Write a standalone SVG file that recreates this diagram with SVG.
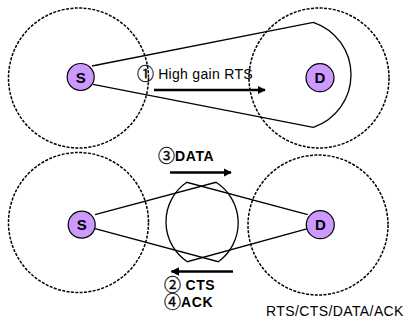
<svg xmlns="http://www.w3.org/2000/svg" width="412" height="326" viewBox="0 0 412 326">
<defs>
<style>
.range{fill:none;stroke:#000;stroke-width:1.5;stroke-dasharray:3 1.4}
.node{fill:#CC99FF;stroke:#000;stroke-width:1.2}
.nl{font-family:"Liberation Sans",Arial,sans-serif;font-weight:bold;font-size:15px;text-anchor:middle;fill:#000}
.beam{fill:none;stroke:#000;stroke-width:1.3;stroke-linejoin:miter}
.arr{stroke:#000;stroke-width:2.6;fill:none}
.lbl{font-family:"Liberation Sans",Arial,sans-serif;font-size:14px;fill:#000}
.blbl{font-family:"Liberation Sans",Arial,sans-serif;font-size:14px;font-weight:bold;fill:#000;letter-spacing:0.6px}
.cn{font-family:"Noto Sans CJK JP","DejaVu Sans",sans-serif;font-weight:normal;font-size:17px;letter-spacing:0;stroke:#000;stroke-width:0.3}
</style>
<marker id="ah" viewBox="0 0 10 10" refX="9" refY="5" markerWidth="3.2" markerHeight="3.2" orient="auto" markerUnits="strokeWidth">
<path d="M0,0 L10,5 L0,10 Z" fill="#000"/>
</marker>
</defs>
<g id="ranges">
<circle class="range" cx="78.5" cy="78" r="70"/>
<circle class="range" cx="319" cy="78" r="70"/>
<circle class="range" cx="78.5" cy="222.5" r="70"/>
<circle class="range" cx="318" cy="225" r="70"/>
</g>
<g id="connectors">
<path class="beam" d="M92,66 L313.3,22.3 A55.4,55.4 0 0 1 313.3,127.3 L93,84.3"/>
<path class="beam" d="M95,214.7 L216,182.3 A48,48 0 0 1 218.3,261.7 L95,228.7"/>
<path class="beam" d="M307.7,214.7 L186.7,182.3 A48,48 0 0 0 187.3,261.7 L307.7,228.7"/>
<line class="arr" x1="154" y1="90" x2="265" y2="90" marker-end="url(#ah)"/>
<line class="arr" x1="170" y1="172.5" x2="231" y2="172.5" marker-end="url(#ah)"/>
<line class="arr" x1="233" y1="271.5" x2="171.5" y2="271.5" marker-end="url(#ah)"/>
</g>
<g id="S1"><circle class="node" cx="80.7" cy="77" r="13.5"/><text class="nl" x="80.7" y="82.5">S</text></g>
<g id="D1"><circle class="node" cx="320" cy="77.7" r="14"/><text class="nl" x="320" y="83.2">D</text></g>
<g id="S2"><circle class="node" cx="81.7" cy="224.7" r="13.5"/><text class="nl" x="81.7" y="230.2">S</text></g>
<g id="D2"><circle class="node" cx="320.3" cy="224.7" r="14"/><text class="nl" x="320.3" y="230.2">D</text></g>
<g id="labels">
<text class="lbl" x="137" y="79" letter-spacing="0.3"><tspan class="cn" dy="1">①</tspan><tspan dy="-1"> High gain RTS</tspan></text>
<text class="blbl" x="158" y="161"><tspan class="cn" dy="1">③</tspan><tspan dy="-1">DATA</tspan></text>
<text class="blbl" x="164" y="289.5"><tspan class="cn" dy="1" font-size="16">②</tspan><tspan dy="-1"> CTS</tspan></text>
<text class="blbl" x="164" y="306.5"><tspan class="cn" dy="1" font-size="16">④</tspan><tspan dy="-1">ACK</tspan></text>
<text class="lbl" x="266" y="316" letter-spacing="0.4">RTS/CTS/DATA/ACK</text>
</g>
</svg>
